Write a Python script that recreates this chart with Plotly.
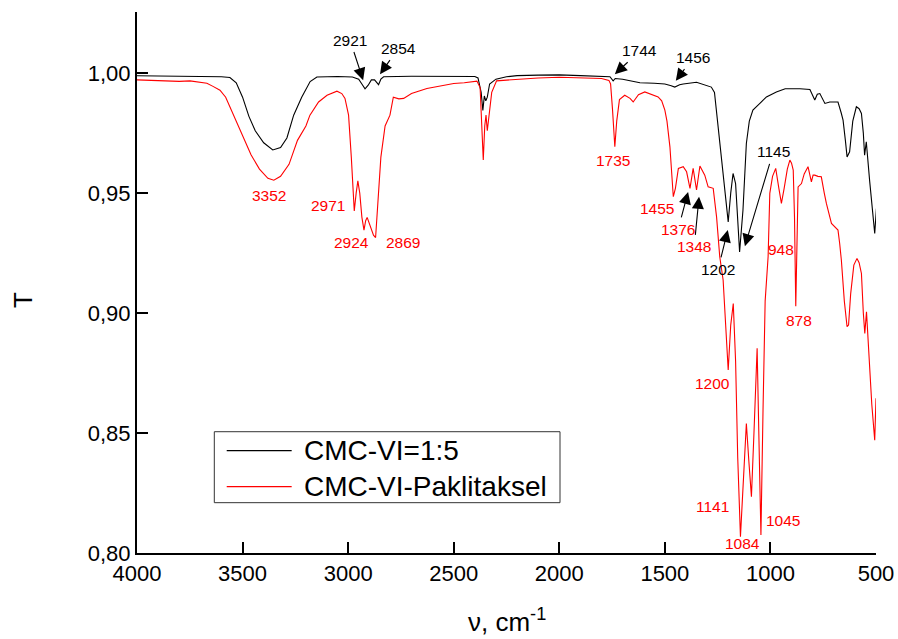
import plotly.graph_objects as go

# ---------------- data ----------------
series_names = ["CMC-VI=1:5", "CMC-VI-Paklitaksel"]

wn_black = [4000, 3900, 3800, 3700, 3600, 3560, 3530, 3500, 3470, 3440, 3400, 3357, 3320, 3290,
            3258, 3220, 3180, 3148, 3050, 2980, 2950, 2935, 2920, 2905, 2890, 2875, 2865, 2856,
            2845, 2832, 2700, 2600, 2500, 2400, 2385, 2370, 2362, 2355, 2348, 2341, 2330, 2300,
            2250, 2200, 2100, 2000, 1900, 1800, 1760, 1745, 1735, 1700, 1618, 1550, 1500, 1470,
            1453, 1430, 1413, 1350, 1303, 1280, 1265, 1248, 1224, 1200, 1188, 1177, 1165, 1155,
            1146, 1130, 1114, 1100, 1083, 1050, 1019, 972, 930, 860, 813, 790, 778, 766, 742,
            719, 680, 665, 656, 645, 637, 625, 610, 593, 580, 569, 560, 554, 546, 530, 515, 506, 498]
t_black = [0.9989, 0.9988, 0.9986, 0.9987, 0.9985, 0.9982, 0.9960, 0.9900, 0.9820, 0.9760, 0.9710,
           0.9680, 0.9690, 0.9730, 0.9825, 0.9900, 0.9965, 0.9984, 0.9986, 0.9984, 0.9975, 0.9955,
           0.9935, 0.9950, 0.9972, 0.9972, 0.9962, 0.9952, 0.9975, 0.9985, 0.9987, 0.9986, 0.9987,
           0.9986, 0.9980, 0.9920, 0.9845, 0.9905, 0.9885, 0.9900, 0.9955, 0.9975, 0.9985, 0.9990,
           0.9992, 0.9993, 0.9990, 0.9988, 0.9985, 0.9968, 0.9978, 0.9975, 0.9960, 0.9958, 0.9955,
           0.9948, 0.9942, 0.9952, 0.9955, 0.9962, 0.9950, 0.9942, 0.9920, 0.9776, 0.9568, 0.9380,
           0.9500, 0.9582, 0.9540, 0.9400, 0.9255, 0.9430, 0.9707, 0.9800, 0.9846, 0.9874, 0.9901,
           0.9922, 0.9935, 0.9935, 0.9932, 0.9888, 0.9912, 0.9915, 0.9874, 0.9880, 0.9880, 0.9835,
           0.9804, 0.9720, 0.9651, 0.9672, 0.9800, 0.9860, 0.9852, 0.9832, 0.9750, 0.9658, 0.9714,
           0.9550, 0.9400, 0.9332, 0.9436]

wn_red = [4000, 3900, 3800, 3749, 3700, 3669, 3640, 3607, 3580, 3542, 3500, 3460, 3420, 3380, 3352,
          3320, 3280, 3240, 3200, 3181, 3140, 3100, 3053, 3030, 3015, 2998, 2985, 2975, 2971, 2962,
          2954, 2945, 2935, 2925, 2917, 2910, 2895, 2880, 2870, 2860, 2845, 2825, 2802, 2786, 2760,
          2737, 2700, 2627, 2560, 2500, 2450, 2390, 2375, 2366, 2360, 2353, 2347, 2341, 2334, 2320,
          2297, 2200, 2100, 2000, 1900, 1800, 1765, 1757, 1748, 1737, 1728, 1715, 1690, 1665, 1650,
          1625, 1595, 1560, 1532, 1515, 1500, 1490, 1476, 1460, 1450, 1436, 1413, 1397, 1381, 1366,
          1350, 1334, 1311, 1295, 1271, 1255, 1240, 1224, 1212, 1200, 1188, 1176, 1165, 1155, 1142,
          1128, 1114, 1102, 1090, 1078, 1063, 1055, 1045, 1035, 1025, 1011, 1003, 990, 975, 960,
          948, 935, 920, 908, 900, 892, 886, 880, 874, 869, 853, 840, 822, 806, 798, 790, 775, 759,
          745, 735, 711, 695, 680, 672, 664, 650, 637, 630, 620, 605, 590, 580, 569, 560, 553, 545,
          535, 520, 506, 500]
t_red = [0.9972, 0.9968, 0.9966, 0.9968, 0.9962, 0.9958, 0.9945, 0.9929, 0.9900, 0.9825, 0.9740,
         0.9660, 0.9600, 0.9562, 0.9554, 0.9570, 0.9620, 0.9720, 0.9780, 0.9825, 0.9880, 0.9908,
         0.9925, 0.9915, 0.9895, 0.9825, 0.9650, 0.9460, 0.9426, 0.9500, 0.9551, 0.9500, 0.9400,
         0.9346, 0.9385, 0.9399, 0.9360, 0.9325, 0.9315, 0.9450, 0.9650, 0.9780, 0.9825, 0.9900,
         0.9893, 0.9895, 0.9915, 0.9936, 0.9948, 0.9957, 0.9960, 0.9967, 0.9940, 0.9780, 0.9638,
         0.9780, 0.9825, 0.9760, 0.9820, 0.9920, 0.9968, 0.9975, 0.9980, 0.9983, 0.9980, 0.9978,
         0.9970, 0.9955, 0.9850, 0.9693, 0.9800, 0.9890, 0.9908, 0.9895, 0.9880, 0.9910, 0.9922,
         0.9910, 0.9901, 0.9885, 0.9846, 0.9800, 0.9693, 0.9485, 0.9520, 0.9603, 0.9610, 0.9589,
         0.9520, 0.9603, 0.9513, 0.9613, 0.9575, 0.9526, 0.9520, 0.9400, 0.9235, 0.9138, 0.8950,
         0.8763, 0.8950, 0.9040, 0.8800, 0.8400, 0.8068, 0.8300, 0.8540, 0.8380, 0.8235, 0.8500,
         0.8853, 0.8500, 0.8075, 0.8600, 0.9050, 0.9235, 0.9499, 0.9570, 0.9603, 0.9520, 0.9457,
         0.9520, 0.9600, 0.9638, 0.9625, 0.9596, 0.9400, 0.9029, 0.9350, 0.9526, 0.9540, 0.9580,
         0.9610, 0.9547, 0.9575, 0.9575, 0.9570, 0.9568, 0.9500, 0.9457, 0.9374, 0.9360, 0.9346,
         0.9290, 0.9220, 0.9050, 0.8943, 0.8950, 0.9080, 0.9200, 0.9228, 0.9210, 0.9165, 0.9000,
         0.8915, 0.9005, 0.8850, 0.8620, 0.8470, 0.8645]

x_tick_vals = [4000, 3500, 3000, 2500, 2000, 1500, 1000, 500]
x_tick_text = ["4000", "3500", "3000", "2500", "2000", "1500", "1000", "500"]
y_tick_vals = [0.80, 0.85, 0.90, 0.95, 1.00]
y_tick_text = ["0,80", "0,85", "0,90", "0,95", "1,00"]

# peak labels: (text, label wavenumber, label T, series index, arrow head or None)
peak_labels = [
    ("3352", 3374, 0.9492, 1, None), ("2971", 3094, 0.9450, 1, None),
    ("2924", 2983, 0.9293, 1, None), ("2869", 2742, 0.9293, 1, None),
    ("1735", 1745, 0.9635, 1, None), ("1455", 1539, 0.9436, 1, None),
    ("1376", 1437, 0.9349, 1, (1390, 0.9505)), ("1348", 1361, 0.9276, 1, (1338, 0.9485)),
    ("948", 951, 0.9265, 1, None), ("878", 865, 0.8971, 1, None),
    ("1200", 1276, 0.8707, 1, None), ("1141", 1276, 0.8193, 1, None),
    ("1084", 1132, 0.8040, 1, None), ("1045", 940, 0.8135, 1, None),
    ("2921", 2991, 1.0138, 0, (2929, 0.9971)), ("2854", 2763, 1.0103, 0, (2849, 0.9996)),
    ("1744", 1618, 1.0093, 0, (1737, 0.9996)), ("1456", 1366, 1.0065, 0, (1448, 0.9968)),
    ("1145", 987, 0.9672, 0, (1121, 0.9279)), ("1202", 1248, 0.9182, 0, (1202, 0.9346)),
]

colors = ["#000000", "#ff0000"]
FONT = "Arial, 'Liberation Sans', sans-serif"

fig = go.Figure()
for name, wn, t, c in [(series_names[0], wn_black, t_black, colors[0]),
                       (series_names[1], wn_red, t_red, colors[1])]:
    fig.add_trace(go.Scatter(x=wn, y=t, mode="lines", name=name,
                             line=dict(color=c, width=1.1), showlegend=False))

annotations = []
for txt, xv, yv, s, head in peak_labels:
    a = dict(text=txt, font=dict(family=FONT, size=15.5, color=colors[s]),
             xanchor="center", yanchor="middle", xref="x", yref="y")
    if head is None:
        a.update(x=xv, y=yv, showarrow=False)
    else:
        a.update(x=head[0], y=head[1], ax=xv, ay=yv, axref="x", ayref="y", showarrow=True,
                 arrowhead=2, arrowsize=2.2, arrowwidth=1.1, arrowcolor="#000000",
                 standoff=0, startstandoff=2)
    annotations.append(a)

# axis titles
annotations.append(dict(x=0.5, y=-0.124, xref="paper", yref="paper",
                        text="ν, cm<sup>-1</sup>", showarrow=False,
                        font=dict(family=FONT, size=26, color="#000000"),
                        xanchor="center", yanchor="middle"))
annotations.append(dict(x=-0.154, y=0.468, xref="paper", yref="paper", text="T",
                        showarrow=False, textangle=-90,
                        font=dict(family=FONT, size=26, color="#000000"),
                        xanchor="center", yanchor="middle"))

# manual legend
shapes = [dict(type="rect", xref="paper", yref="paper", x0=0.1046, x1=0.5724, y0=0.093, y1=0.2242,
               line=dict(color="#333333", width=1), fillcolor="white", layer="above")]
legend_rows_y = [0.1891, 0.1226]
for i, name in enumerate(series_names):
    shapes.append(dict(type="line", xref="paper", yref="paper", x0=0.1214, x1=0.2093,
                       y0=legend_rows_y[i], y1=legend_rows_y[i],
                       line=dict(color=colors[i], width=1.2), layer="above"))
    annotations.append(dict(x=0.2229, y=legend_rows_y[i], xref="paper", yref="paper", text=name,
                            showarrow=False, xanchor="left", yanchor="middle",
                            font=dict(family=FONT, size=28, color="#000000")))

fig.update_layout(
    width=898, height=639,
    margin=dict(l=137, r=22, t=12, b=86, autoexpand=False),
    paper_bgcolor="white", plot_bgcolor="white",
    font=dict(family=FONT, color="#000000"),
    annotations=annotations, shapes=shapes,
    showlegend=False,
)
fig.update_xaxes(range=[4000, 500], tickvals=x_tick_vals, ticktext=x_tick_text,
                 ticks="inside", ticklen=11, tickwidth=2, tickcolor="black",
                 showline=True, linewidth=2, linecolor="black", mirror=False, automargin=False,
                 showgrid=False, zeroline=False, tickfont=dict(size=22, family=FONT))
fig.update_yaxes(range=[0.80, 1.0255], tickvals=y_tick_vals, ticktext=y_tick_text,
                 ticks="inside", ticklen=11, tickwidth=2, tickcolor="black",
                 showline=True, linewidth=2, linecolor="black", mirror=False, automargin=False,
                 showgrid=False, zeroline=False, tickfont=dict(size=22, family=FONT))

fig.write_html("out.html")
